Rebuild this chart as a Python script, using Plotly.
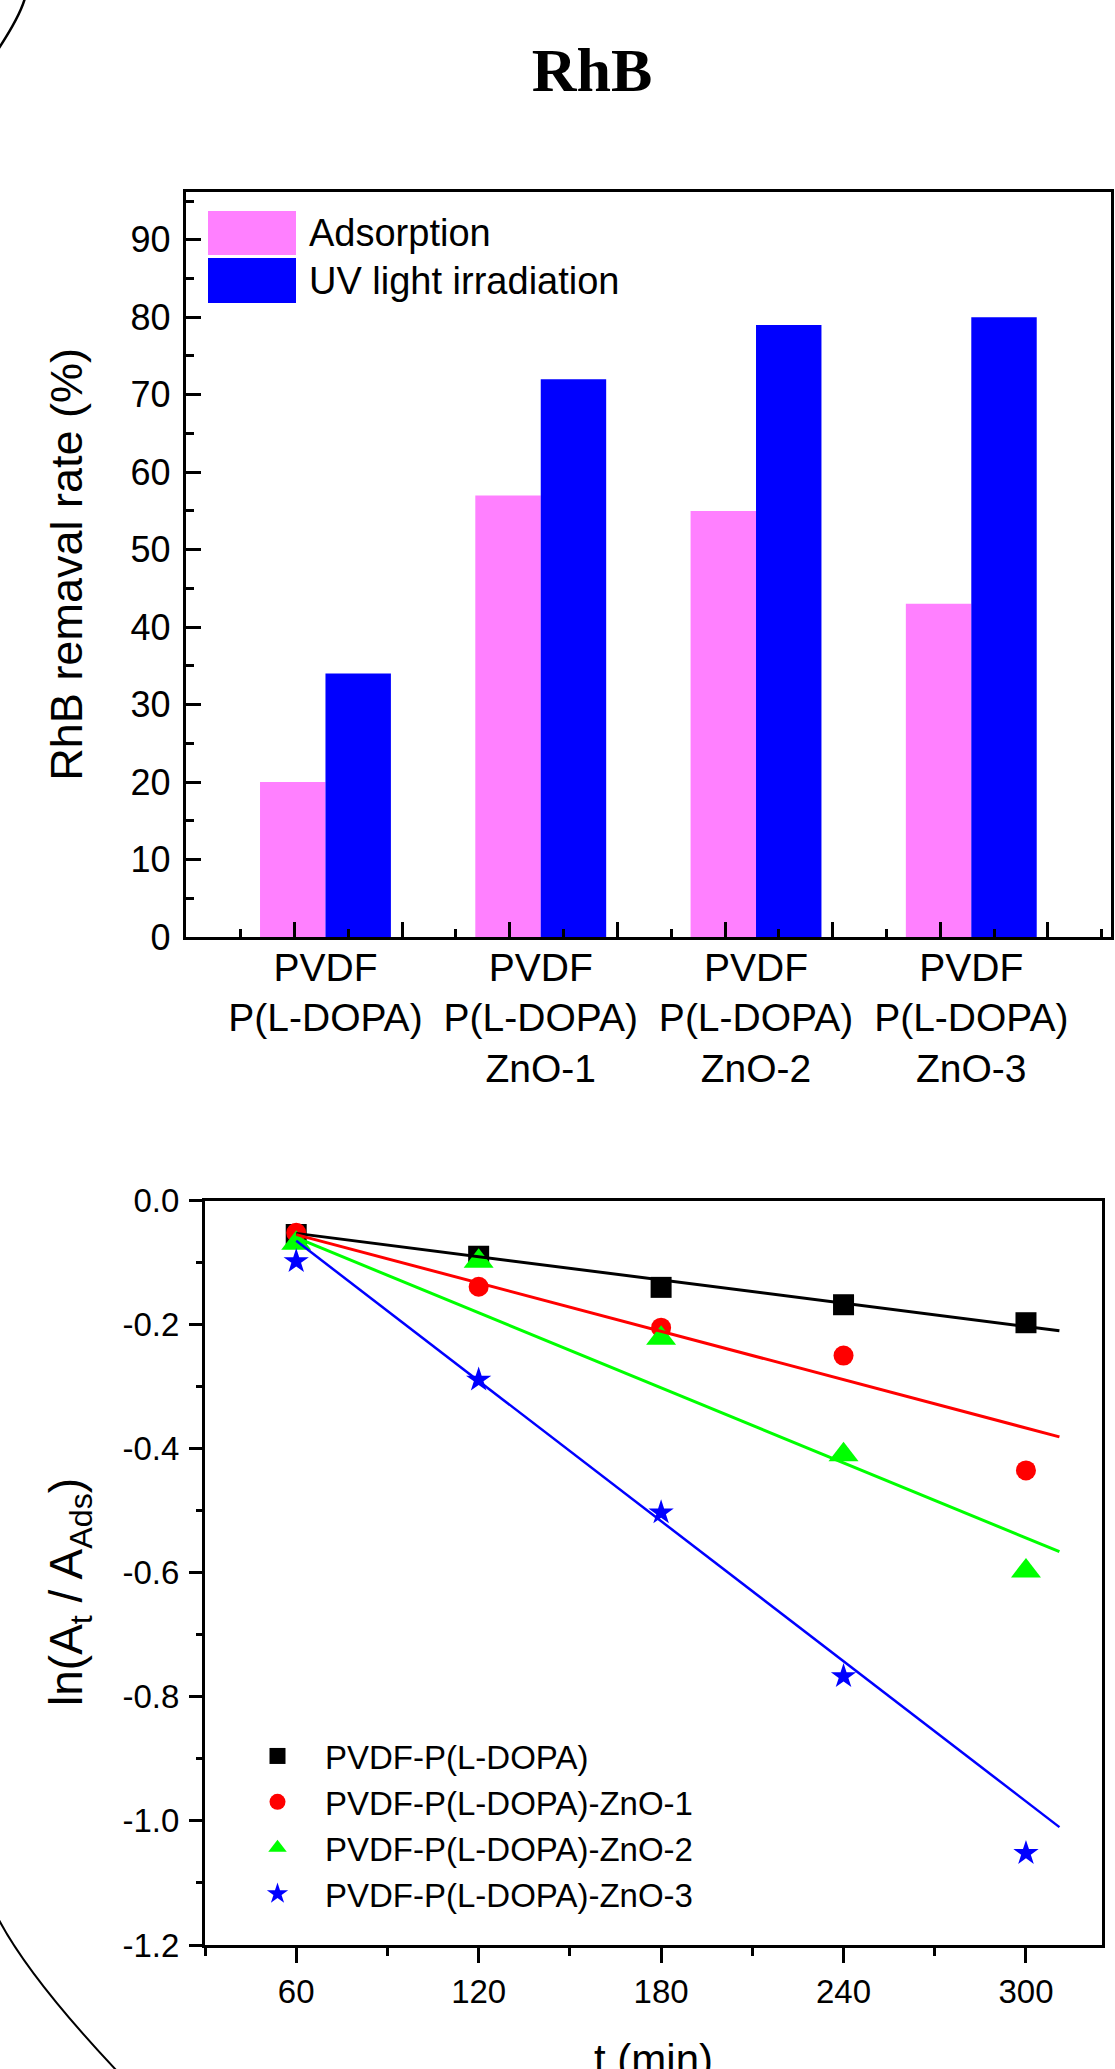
import plotly.graph_objects as go

W, H = 1115, 2069

# ---------------- data ----------------
categories = ["PVDF<br>P(L-DOPA)",
              "PVDF<br>P(L-DOPA)<br>ZnO-1",
              "PVDF<br>P(L-DOPA)<br>ZnO-2",
              "PVDF<br>P(L-DOPA)<br>ZnO-3"]
bar_names = ["Adsorption", "UV light irradiation"]
adsorption = [20, 57, 55, 43]
uv_light = [34, 72, 79, 80]

time_min = [60, 120, 180, 240, 300]
series_names = ["PVDF-P(L-DOPA)", "PVDF-P(L-DOPA)-ZnO-1",
                "PVDF-P(L-DOPA)-ZnO-2", "PVDF-P(L-DOPA)-ZnO-3"]
ln_pvdf = [-0.055, -0.090, -0.140, -0.168, -0.197]
ln_zno1 = [-0.052, -0.139, -0.205, -0.250, -0.435]
ln_zno2 = [-0.069, -0.098, -0.222, -0.410, -0.597]
ln_zno3 = [-0.098, -0.289, -0.503, -0.767, -1.052]

fit_t = [60, 311]
fit_pvdf = [-0.053, -0.210]
fit_zno1 = [-0.055, -0.381]
fit_zno2 = [-0.060, -0.566]
fit_zno3 = [-0.065, -1.010]

y1_ticks = [0, 10, 20, 30, 40, 50, 60, 70, 80, 90]
y2_tickvals = [0.0, -0.2, -0.4, -0.6, -0.8, -1.0, -1.2]
y2_ticktext = ["0.0", "-0.2", "-0.4", "-0.6", "-0.8", "-1.0", "-1.2"]
x2_ticks = [60, 120, 180, 240, 300]
x2_title = "t (min)"

# ---------------- styles ----------------
FONT = "Liberation Sans, Arial, sans-serif"
PINK = "#FF80FF"
BLUE = "#0000FF"
colors = ["#000000", "#FF0000", "#00FF00", "#0000FF"]
symbols = ["square", "circle", "triangle-up", "star"]
msizes = [21, 20, 26, 19]
lwidths = [3, 3, 3, 2.5]


def px(x):
    return x / W


def py(y):
    return 1 - y / H


fig = go.Figure()

# top: bars
fig.add_trace(go.Bar(x=categories, y=adsorption, name=bar_names[0],
                     marker=dict(color=PINK, line=dict(width=0)),
                     xaxis="x", yaxis="y", showlegend=False))
fig.add_trace(go.Bar(x=categories, y=uv_light, name=bar_names[1],
                     marker=dict(color=BLUE, line=dict(width=0)),
                     xaxis="x", yaxis="y", showlegend=False))
# helper trace so the tick-mark overlay axis is drawn
fig.add_trace(go.Scatter(x=[None], y=[None], xaxis="x3", yaxis="y",
                         showlegend=False, hoverinfo="skip", mode="markers"))

# bottom: scatter + fit lines
data_sets = [ln_pvdf, ln_zno1, ln_zno2, ln_zno3]
fit_sets = [fit_pvdf, fit_zno1, fit_zno2, fit_zno3]
for name, ys, c, s, ms in zip(series_names, data_sets, colors, symbols, msizes):
    fig.add_trace(go.Scatter(x=time_min, y=ys, name=name, mode="markers",
                             marker=dict(symbol=s, size=ms, color=c, line=dict(width=0)),
                             xaxis="x2", yaxis="y2"))
for name, ys, c, lw in zip(series_names, fit_sets, colors, lwidths):
    fig.add_trace(go.Scatter(x=fit_t, y=ys, name=name + " fit", mode="lines",
                             line=dict(color=c, width=lw),
                             xaxis="x2", yaxis="y2", showlegend=False))

axis_common = dict(showgrid=False, zeroline=False, linecolor="black",
                   tickcolor="black", showline=True, automargin=False)

top_range = [-0.646, 3.649]

fig.update_layout(
    width=W, height=H,
    margin=dict(l=0, r=0, t=0, b=0, pad=0, autoexpand=False),
    paper_bgcolor="white", plot_bgcolor="white",
    font=dict(family=FONT, color="black"),
    barmode="group", bargap=0.392, bargroupgap=0,
    title=dict(text="<b>RhB</b>", font=dict(family="Liberation Serif, Times New Roman, serif",
                                            size=62, color="black"),
               x=592 / W, xanchor="center", y=py(69), yanchor="middle", automargin=False),
    legend=dict(x=px(230), xanchor="left", y=py(1728), yanchor="top",
                font=dict(size=33, family=FONT), itemwidth=85,
                bgcolor="rgba(0,0,0,0)", borderwidth=0, itemsizing="trace"),
    xaxis=dict(**axis_common, domain=[px(186.4), px(1111)], anchor="y",
               type="category", range=top_range, linewidth=2.5, mirror=True,
               ticks="", tickfont=dict(size=39), ticklabelstandoff=-6),
    xaxis3=dict(overlaying="x", anchor="y", side="bottom", range=top_range,
                showgrid=False, zeroline=False, showline=False, automargin=False,
                showticklabels=False, ticks="inside", tick0=-0.144, dtick=0.5,
                ticklen=15, tickwidth=2.5, tickcolor="black",
                minor=dict(tick0=-0.144, dtick=0.25, ticks="inside", ticklen=8,
                           tickwidth=2.5, tickcolor="black", showgrid=False)),
    yaxis=dict(**axis_common, domain=[py(937), py(191.7)], anchor="x",
               range=[0, 96.2], tickmode="linear", tick0=0, dtick=10,
               ticks="inside", ticklen=15, tickwidth=2.5, linewidth=2.5, mirror=True,
               minor=dict(tick0=0, dtick=5, ticks="inside", ticklen=8, tickwidth=2.5,
                          tickcolor="black", showgrid=False),
               tickfont=dict(size=36), ticklabelstandoff=6,
               title=dict(text="RhB remaval rate (%)", font=dict(size=45), standoff=34)),
    xaxis2=dict(**axis_common, domain=[px(205), px(1102)], anchor="y2",
                range=[30, 325], tickmode="array", tickvals=x2_ticks,
                ticks="outside", ticklen=15, tickwidth=3, linewidth=3, mirror=True,
                minor=dict(tick0=30, dtick=30, ticks="outside", ticklen=8, tickwidth=3,
                           tickcolor="black", showgrid=False),
                tickfont=dict(size=33), ticklabelstandoff=0),
    yaxis2=dict(**axis_common, domain=[py(1945), py(1200.5)], anchor="x2",
                range=[-1.2, 0.0], tickmode="array", tickvals=y2_tickvals,
                ticktext=y2_ticktext, ticks="outside", ticklen=13, tickwidth=3,
                linewidth=3, mirror=True,
                minor=dict(tick0=0, dtick=0.1, ticks="outside", ticklen=6, tickwidth=3,
                           tickcolor="black", showgrid=False),
                tickfont=dict(size=33), ticklabelstandoff=3,
                title=dict(text="ln(A<sub>t</sub> / A<sub>Ads</sub>)&nbsp;&nbsp;&nbsp;",
                           font=dict(size=46), standoff=26)),
)

# custom legend for the bar chart (large colour swatches)
shapes = [
    dict(type="rect", xref="paper", yref="paper", x0=px(208), x1=px(296),
         y0=py(255), y1=py(211), fillcolor=PINK, line=dict(width=0)),
    dict(type="rect", xref="paper", yref="paper", x0=px(208), x1=px(296),
         y0=py(303), y1=py(258), fillcolor=BLUE, line=dict(width=0)),
    # decorative arcs at the left edge
    dict(type="path", xref="paper", yref="paper",
         path=f"M {px(25)},{py(-2)} Q {px(20)},{py(16)} {px(-1)},{py(48)}",
         line=dict(color="black", width=2.5)),
    dict(type="path", xref="paper", yref="paper",
         path=f"M {px(-1)},{py(1920)} Q {px(30.4)},{py(1979)} {px(117)},{py(2071)}",
         line=dict(color="black", width=2)),
]
fig.update_layout(shapes=shapes)

annotations = [
    dict(text=bar_names[0], xref="paper", yref="paper", x=px(307), y=py(233),
         xanchor="left", yanchor="middle", showarrow=False,
         font=dict(size=38, family=FONT, color="black")),
    dict(text=bar_names[1], xref="paper", yref="paper", x=px(307), y=py(280.5),
         xanchor="left", yanchor="middle", showarrow=False,
         font=dict(size=38, family=FONT, color="black")),
    # x-axis title of the kinetics plot (partly cut by the lower page edge, as in the original)
    dict(text=x2_title, xref="x2 domain", yref="paper", x=0.5, y=py(2059),
         xanchor="center", yanchor="middle", showarrow=False,
         font=dict(size=42, family=FONT, color="black")),
]
fig.update_layout(annotations=annotations)

fig.write_html("out.html")
